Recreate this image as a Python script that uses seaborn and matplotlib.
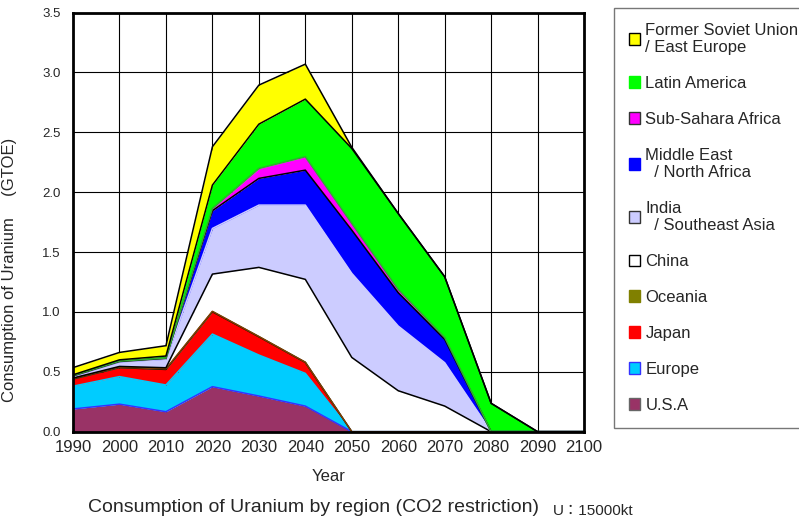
import pandas as pd
import numpy as np
import matplotlib
matplotlib.use("Agg")
import matplotlib.pyplot as plt
import seaborn as sns
from matplotlib.patches import Patch

# Years on the x axis
years = [1990, 2000, 2010, 2020, 2030, 2040, 2050, 2060, 2070, 2080, 2090, 2100]

# Uranium consumption by region (GTOE), bottom of stack first
usa      = [0.19, 0.23, 0.167, 0.376, 0.298, 0.214, 0, 0, 0, 0, 0, 0]
europe   = [0.19, 0.23, 0.223, 0.439, 0.342, 0.273, 0, 0, 0, 0, 0, 0]
japan    = [0.06, 0.075, 0.13, 0.187, 0.153, 0.092, 0, 0, 0, 0, 0, 0]
oceania  = [0.003, 0.003, 0.005, 0.003, 0.002, 0.001, 0, 0, 0, 0, 0, 0]
china    = [0.005, 0.007, 0.009, 0.311, 0.577, 0.692, 0.62, 0.342, 0.214, 0, 0, 0]
india    = [0.015, 0.037, 0.07, 0.381, 0.52, 0.62, 0.702, 0.54, 0.362, 0, 0, 0]
mideast  = [0.003, 0.004, 0.008, 0.148, 0.223, 0.292, 0.361, 0.278, 0.195, 0, 0, 0]
ssafrica = [0.003, 0.003, 0.003, 0.019, 0.083, 0.112, 0.056, 0.028, 0.016, 0, 0, 0]
latin    = [0.006, 0.011, 0.017, 0.195, 0.37, 0.481, 0.626, 0.634, 0.507, 0.237, 0, 0]
fsu      = [0.06, 0.062, 0.086, 0.32, 0.326, 0.292, 0.01, 0, 0, 0, 0, 0]

regions = ["U.S.A", "Europe", "Japan", "Oceania", "China",
           "India\n  / Southeast Asia", "Middle East\n  / North Africa",
           "Sub-Sahara Africa", "Latin America", "Former Soviet Union\n/ East Europe"]
series = [usa, europe, japan, oceania, china, india, mideast, ssafrica, latin, fsu]
fills = ["#993366", "#00CCFF", "#FF0000", "#808000", "#FFFFFF",
         "#CCCCFF", "#0000FF", "#FF00FF", "#00FF00", "#FFFF00"]
lines = ["#3333FF", "#00CCFF", "#000000", "#804000", "#000000",
         "#CCCCFF", "#000000", "#33AA33", "#000000", "#000000"]
box_edges = ["#666666", "#3333FF", "#FF0000", "#808000", "#000000",
             "#333333", "#0000FF", "#333333", "#00FF00", "#000000"]

df = pd.DataFrame(dict(zip(regions, series)), index=years)
cum = df.cumsum(axis=1)

sns.set_style("white")
plt.rcParams["font.family"] = ["Liberation Sans", "Noto Sans CJK JP", "DejaVu Sans"]

fig = plt.figure(figsize=(7.99, 5.22), dpi=100)
ax = fig.add_axes([0.0914, 0.173, 0.6396, 0.803])

prev = np.zeros(len(years))
for name, fc in zip(regions, fills):
    ax.fill_between(years, prev, cum[name].values, color=fc, linewidth=0, zorder=2)
    prev = cum[name].values

for name, lc in zip(regions, lines):
    sns.lineplot(x=years, y=cum[name].values, color=lc, linewidth=1.1, ax=ax, zorder=3)

ax.set_xlim(1990, 2100)
ax.set_ylim(0, 3.5)
ax.set_xticks(years)
ax.set_xticks(np.arange(1995, 2100, 10), minor=True)
ax.set_yticks(np.arange(0, 3.51, 0.5))
ax.set_yticklabels([f"{v:.1f}" for v in np.arange(0, 3.51, 0.5)], fontsize=9.5)
ax.set_xticklabels([str(y) for y in years], fontsize=12)
ax.tick_params(axis="x", which="major", length=0, pad=6)
ax.tick_params(axis="x", which="minor", direction="in", length=4, width=1, color="black")
ax.tick_params(axis="y", length=0, pad=9)
ax.grid(True, which="major", color="black", linewidth=0.8, zorder=0)
ax.set_axisbelow(True)
for sp in ax.spines.values():
    sp.set_linewidth(2)
    sp.set_color("black")
    sp.set_zorder(5)

ax.set_xlabel("Year", fontsize=12, labelpad=10)
ax.set_ylabel("Consumption of Uranium \u3000(GTOE)", fontsize=12)
ax.yaxis.set_label_coords(-0.11, 0.386)

fig.text(0.392, 0.027, "Consumption of Uranium by region (CO2 restriction)",
         fontsize=14, ha="center", va="center")
fig.text(0.692, 0.022, "U\uff1a15000kt", fontsize=11, ha="left", va="center")

handles = [Patch(facecolor=fc, edgecolor=ec, linewidth=1)
           for fc, ec in zip(fills, box_edges)]
leg = fig.legend(handles[::-1], regions[::-1], loc="upper left",
                 bbox_to_anchor=(0.768, 0.985), fontsize=12, frameon=True,
                 fancybox=False, edgecolor="#555555", handlelength=0.7,
                 handleheight=0.7, handletextpad=0.3, labelspacing=1.25,
                 borderpad=0.9, borderaxespad=0)
leg.get_frame().set_linewidth(1)

fig.savefig("out.png", dpi=100)
